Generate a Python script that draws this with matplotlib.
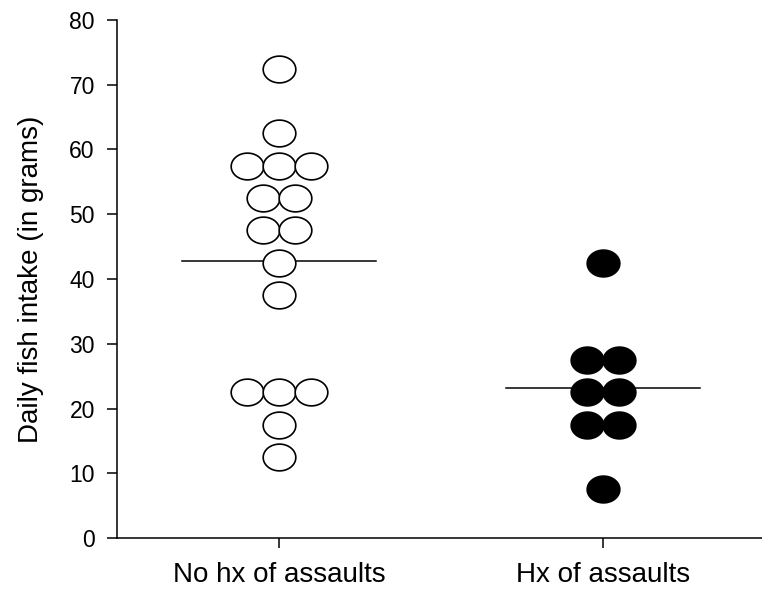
import numpy as np
import matplotlib
matplotlib.use("Agg")
import matplotlib.pyplot as plt
from matplotlib.path import Path

plt.rcParams['font.family'] = ['Liberation Sans', 'DejaVu Sans']

# Daily fish intake (grams) per subject, by group
categories = ["No hx of assaults", "Hx of assaults"]
no_hx_values = [72.5, 62.5, 57.5, 57.5, 57.5, 52.5, 52.5, 47.5, 47.5,
                42.5, 37.5, 22.5, 22.5, 22.5, 17.5, 12.5]
hx_values = [42.5, 27.5, 27.5, 22.5, 22.5, 17.5, 17.5, 7.5]
y_ticks = [0, 10, 20, 30, 40, 50, 60, 70, 80]

# slightly wide elliptical marker
t = np.linspace(0, 2 * np.pi, 64)
ellipse = Path(np.column_stack([np.cos(t), 0.82 * np.sin(t)]), closed=True)


def dot_offsets(values, step=0.098):
    """Spread equal values side by side, centred on the category."""
    vals = np.asarray(values, dtype=float)
    offs = np.zeros_like(vals)
    for v in np.unique(vals):
        idx = np.where(vals == v)[0]
        n = len(idx)
        offs[idx] = (np.arange(n) - (n - 1) / 2) * step
    return offs


fig = plt.figure(figsize=(7.62, 5.89), dpi=100)
ax = fig.add_axes([117 / 762, 51 / 589, 645 / 762, 518 / 589])

groups = [no_hx_values, hx_values]
faces = ["white", "black"]
for i, (vals, fc) in enumerate(zip(groups, faces)):
    x = i + dot_offsets(vals)
    ax.scatter(x, vals, s=23.5 ** 2, marker=ellipse, facecolor=fc,
               edgecolor="black", linewidth=1.2, zorder=3)
    m = np.mean(vals)
    ax.plot([i - 0.3, i + 0.3], [m, m], color="black", linewidth=1.1, zorder=2)

ax.set_xlim(-0.5, 1.49)
ax.set_ylim(0, 80)
ax.set_xticks([0, 1])
ax.set_xticklabels(categories, fontsize=20)
ax.set_yticks(y_ticks)
ax.set_yticklabels([str(v) for v in y_ticks], fontsize=16.5)
ax.set_ylabel("Daily fish intake (in grams)", fontsize=20, labelpad=18)

for side in ("top", "right"):
    ax.spines[side].set_visible(False)
for side in ("left", "bottom"):
    ax.spines[side].set_linewidth(1.1)
ax.tick_params(axis="both", direction="out", length=7, width=1.1, color="black")
ax.tick_params(axis="x", pad=10)
ax.tick_params(axis="y", pad=9)

fig.savefig("out.png", dpi=100)
